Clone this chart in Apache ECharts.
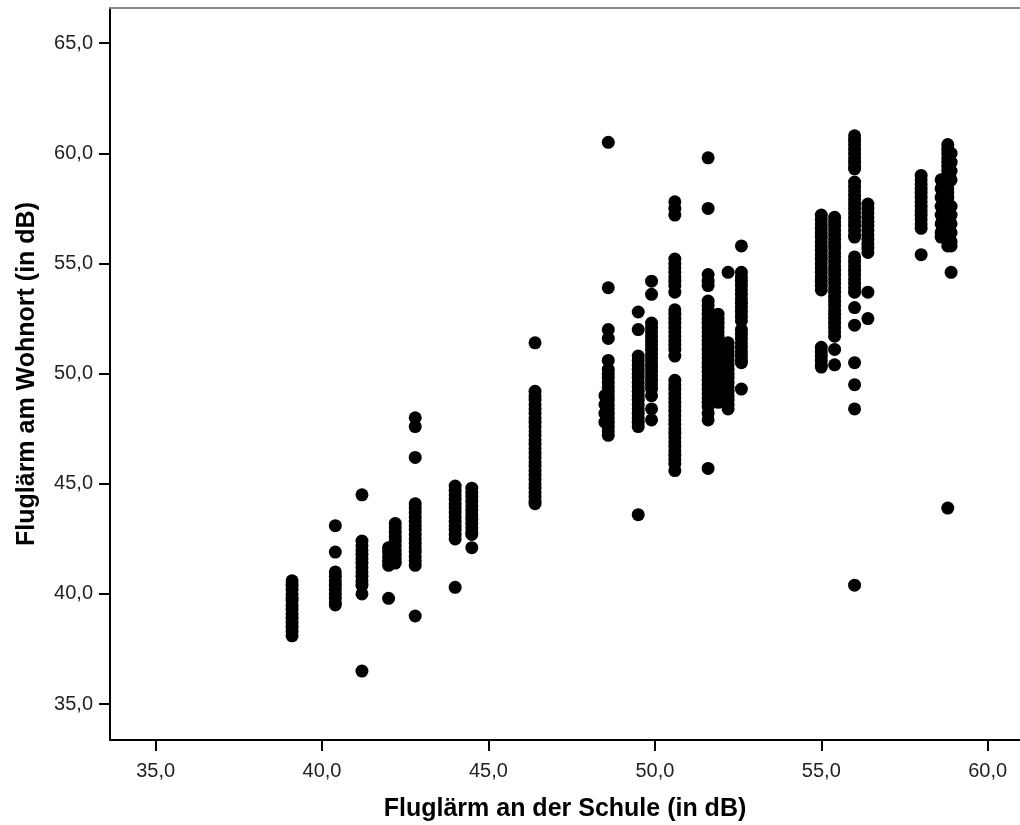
<!DOCTYPE html>
<html>
<head>
<meta charset="utf-8">
<script src="https://cdn.jsdelivr.net/npm/echarts@6/dist/echarts.min.js"></script>
<style>
  html, body { margin: 0; padding: 0; background: #fff; }
  #chart { width: 1020px; height: 825px; }
</style>
</head>
<body>
<div id="chart"></div>
<script>
// Fluglärm an der Schule (x) gegen Fluglärm am Wohnort (y), in dB.
// Each school noise level has its own list of residential noise values.
const w39_1 = [40.6, 40.4, 40.2, 40.0, 39.8, 39.7, 39.5, 39.3, 39.1, 38.9, 38.7, 38.5, 38.3, 38.1];
const w40_4 = [43.1, 41.9, 41.0, 40.8, 40.6, 40.4, 40.2, 40.0, 39.8, 39.6, 39.5];
const w41_2 = [44.5, 42.4, 42.2, 42.0, 41.8, 41.6, 41.4, 41.2, 41.0, 40.8, 40.6, 40.4, 40.0, 36.5];
const w42_0 = [42.1, 41.9, 41.7, 41.5, 41.3, 39.8];
const w42_2 = [43.2, 43.0, 42.8, 42.6, 42.4, 42.2, 42.0, 41.8, 41.6, 41.4];
const w42_8 = [48.0, 47.6, 46.2, 44.1, 43.9, 43.7, 43.5, 43.3, 43.1, 42.9, 42.7, 42.5, 42.3, 42.1, 41.9, 41.7, 41.5, 41.3, 39.0];
const w44_0 = [44.9, 44.7, 44.5, 44.3, 44.1, 43.9, 43.7, 43.5, 43.3, 43.1, 42.9, 42.7, 42.5, 40.3];
const w44_5 = [44.8, 44.6, 44.4, 44.2, 44.0, 43.8, 43.6, 43.4, 43.2, 43.0, 42.8, 42.7, 42.1];
const w46_4 = [51.4, 49.2, 49.0, 48.8, 48.6, 48.4, 48.2, 48.0, 47.8, 47.6, 47.4, 47.2, 47.0, 46.8, 46.6, 46.4, 46.2, 46.0, 45.8, 45.6, 45.4, 45.2, 45.0, 44.8, 44.6, 44.4, 44.2, 44.1];
const w48_5 = [49.0, 48.6, 48.2, 47.8];
const w48_6 = [60.5, 53.9, 52.0, 51.6, 50.6, 50.2, 50.0, 49.8, 49.6, 49.4, 49.2, 49.0, 48.8, 48.6, 48.4, 48.2, 48.0, 47.8, 47.6, 47.4, 47.2];
const w49_5 = [52.8, 52.0, 50.8, 50.6, 50.4, 50.2, 50.0, 49.8, 49.6, 49.4, 49.2, 49.0, 48.8, 48.6, 48.4, 48.2, 48.0, 47.8, 47.6, 43.6];
const w49_9 = [54.2, 53.6, 52.3, 52.1, 51.9, 51.7, 51.5, 51.3, 51.1, 50.9, 50.7, 50.5, 50.3, 50.1, 49.9, 49.7, 49.5, 49.3, 49.0, 48.4, 47.9];
const w50_6 = [57.8, 57.5, 57.2, 55.2, 55.0, 54.8, 54.6, 54.4, 54.2, 54.0, 53.7, 52.9, 52.7, 52.5, 52.3, 52.1, 51.9, 51.7, 51.5, 51.3, 51.1, 50.8,
               49.7, 49.5, 49.3, 49.1, 48.9, 48.7, 48.5, 48.3, 48.1, 47.9, 47.7, 47.5, 47.3, 47.1, 46.9, 46.7, 46.5, 46.3, 46.1, 45.9, 45.6];
const w51_6 = [59.8, 57.5, 54.5, 54.2, 54.0, 53.3, 53.1, 52.9, 52.7, 52.5, 52.3, 52.1, 51.9, 51.7, 51.5, 51.3, 51.1, 50.9, 50.7, 50.5,
               50.3, 50.1, 49.9, 49.7, 49.5, 49.3, 49.1, 48.9, 48.7, 48.5, 48.2, 47.9, 45.7];
const w51_9 = [52.7, 52.5, 52.3, 52.1, 51.9, 51.7, 51.5, 51.3, 51.1, 50.9, 50.7, 50.5, 50.3, 50.1, 49.9, 49.7, 49.5, 49.3, 49.1, 48.9, 48.7];
const w52_2 = [54.6, 51.4, 51.2, 51.0, 50.8, 50.6, 50.4, 50.2, 50.0, 49.8, 49.6, 49.4, 49.2, 49.0, 48.8, 48.6, 48.4];
const w52_6 = [55.8, 54.6, 54.4, 54.2, 54.0, 53.8, 53.6, 53.4, 53.2, 53.0, 52.8, 52.6, 52.4, 52.0, 51.8, 51.6, 51.4, 51.2, 51.0, 50.8, 50.6, 50.5, 49.3];
const w55_0 = [57.2, 57.0, 56.8, 56.6, 56.4, 56.2, 56.0, 55.8, 55.6, 55.4, 55.2, 55.0, 54.8, 54.6, 54.4, 54.2, 54.0, 53.8, 51.2, 51.0, 50.8, 50.6, 50.4, 50.3];
const w55_4 = [57.1, 56.9, 56.7, 56.5, 56.3, 56.1, 55.9, 55.7, 55.5, 55.3, 55.1, 54.9, 54.7, 54.5, 54.3, 54.1, 53.9, 53.7, 53.5, 53.3,
               53.1, 52.9, 52.7, 52.5, 52.3, 52.1, 51.9, 51.7, 51.1, 50.4];
const w56_0 = [60.8, 60.6, 60.4, 60.2, 60.0, 59.8, 59.6, 59.4, 59.3, 58.7, 58.5, 58.3, 58.1, 57.9, 57.7, 57.5, 57.3, 57.1, 56.9, 56.7,
               56.5, 56.3, 56.2, 55.3, 55.1, 54.9, 54.7, 54.5, 54.3, 54.1, 53.9, 53.7, 53.0, 52.2, 50.5, 49.5, 48.4, 40.4];
const w56_4 = [57.7, 57.5, 57.3, 57.1, 56.9, 56.7, 56.5, 56.3, 56.1, 55.9, 55.7, 55.5, 53.7, 52.5];
const w58_0 = [59.0, 58.8, 58.6, 58.4, 58.2, 58.0, 57.8, 57.6, 57.4, 57.2, 57.0, 56.8, 56.6, 55.4];
const w58_6 = [58.8, 58.4, 58.0, 57.6, 57.2, 56.8, 56.4, 56.2];
const w58_8 = [60.4, 60.2, 60.0, 59.8, 59.6, 59.4, 59.2, 59.0, 58.8, 58.6, 58.4, 58.2, 58.0, 57.8, 57.6, 57.4, 57.2, 57.0,
               56.8, 56.6, 56.4, 56.2, 56.0, 55.8, 43.9];
const w58_9 = [60.0, 59.6, 59.2, 58.8, 57.6, 57.2, 56.8, 56.4, 56.0, 55.8, 54.6];

// School noise level for each list above
const schoolLevels = [39.1, 40.4, 41.2, 42.0, 42.2, 42.8, 44.0, 44.5, 46.4, 48.5, 48.6, 49.5, 49.9,
                      50.6, 51.6, 51.9, 52.2, 52.6, 55.0, 55.4, 56.0, 56.4, 58.0, 58.6, 58.8, 58.9];
const homeLevels = [w39_1, w40_4, w41_2, w42_0, w42_2, w42_8, w44_0, w44_5, w46_4, w48_5, w48_6, w49_5, w49_9,
                    w50_6, w51_6, w51_9, w52_2, w52_6, w55_0, w55_4, w56_0, w56_4, w58_0, w58_6, w58_8, w58_9];

const xTicks = [35, 40, 45, 50, 55, 60];
const yTicks = [35, 40, 45, 50, 55, 60, 65];

const points = [];
schoolLevels.forEach((x, i) => homeLevels[i].forEach(y => points.push([x, y])));

const fmt = v => v.toFixed(1).replace('.', ',');
const FONT = '"Liberation Sans", Arial, sans-serif';

const chart = echarts.init(document.getElementById('chart'), null, { renderer: 'canvas' });
chart.setOption({
  animation: false,
  backgroundColor: '#ffffff',
  grid: { left: 110, right: 0, top: 8, bottom: 85, containLabel: false, outerBoundsMode: 'none' },
  xAxis: [{
    type: 'value',
    min: 33.63, max: 60.97,
    name: 'Fluglärm an der Schule (in dB)',
    nameLocation: 'middle',
    nameGap: 57,
    nameTextStyle: { fontFamily: FONT, fontSize: 25, fontWeight: 'bold', color: '#000' },
    axisLine: { show: true, onZero: false, lineStyle: { color: '#000', width: 2 } },
    axisTick: { show: true, inside: false, length: 11, customValues: xTicks, lineStyle: { color: '#000', width: 2 } },
    axisLabel: { customValues: xTicks, formatter: fmt, margin: 21, fontFamily: FONT, fontSize: 20, color: '#222' },
    splitLine: { show: false }
  }, {
    type: 'value',
    position: 'top',
    min: 33.63, max: 60.97,
    axisLine: { show: true, onZero: false, lineStyle: { color: '#888', width: 2 } },
    axisTick: { show: false },
    axisLabel: { show: false },
    splitLine: { show: false }
  }],
  yAxis: {
    type: 'value',
    min: 33.37, max: 66.6,
    name: 'Fluglärm am Wohnort (in dB)',
    nameLocation: 'middle',
    nameRotate: 90,
    nameGap: 70,
    nameTextStyle: { fontFamily: FONT, fontSize: 25, fontWeight: 'bold', color: '#000' },
    axisLine: { show: true, onZero: false, lineStyle: { color: '#000', width: 2 } },
    axisTick: { show: true, inside: false, length: 11, customValues: yTicks, lineStyle: { color: '#000', width: 2 } },
    axisLabel: { customValues: yTicks, formatter: fmt, margin: 17, fontFamily: FONT, fontSize: 20, color: '#222' },
    splitLine: { show: false }
  },
  series: [{
    type: 'scatter',
    xAxisIndex: 0,
    data: points,
    symbol: 'circle',
    symbolSize: 13,
    itemStyle: { color: '#000', opacity: 1 },
    emphasis: { disabled: true }
  }]
});
</script>
</body>
</html>
